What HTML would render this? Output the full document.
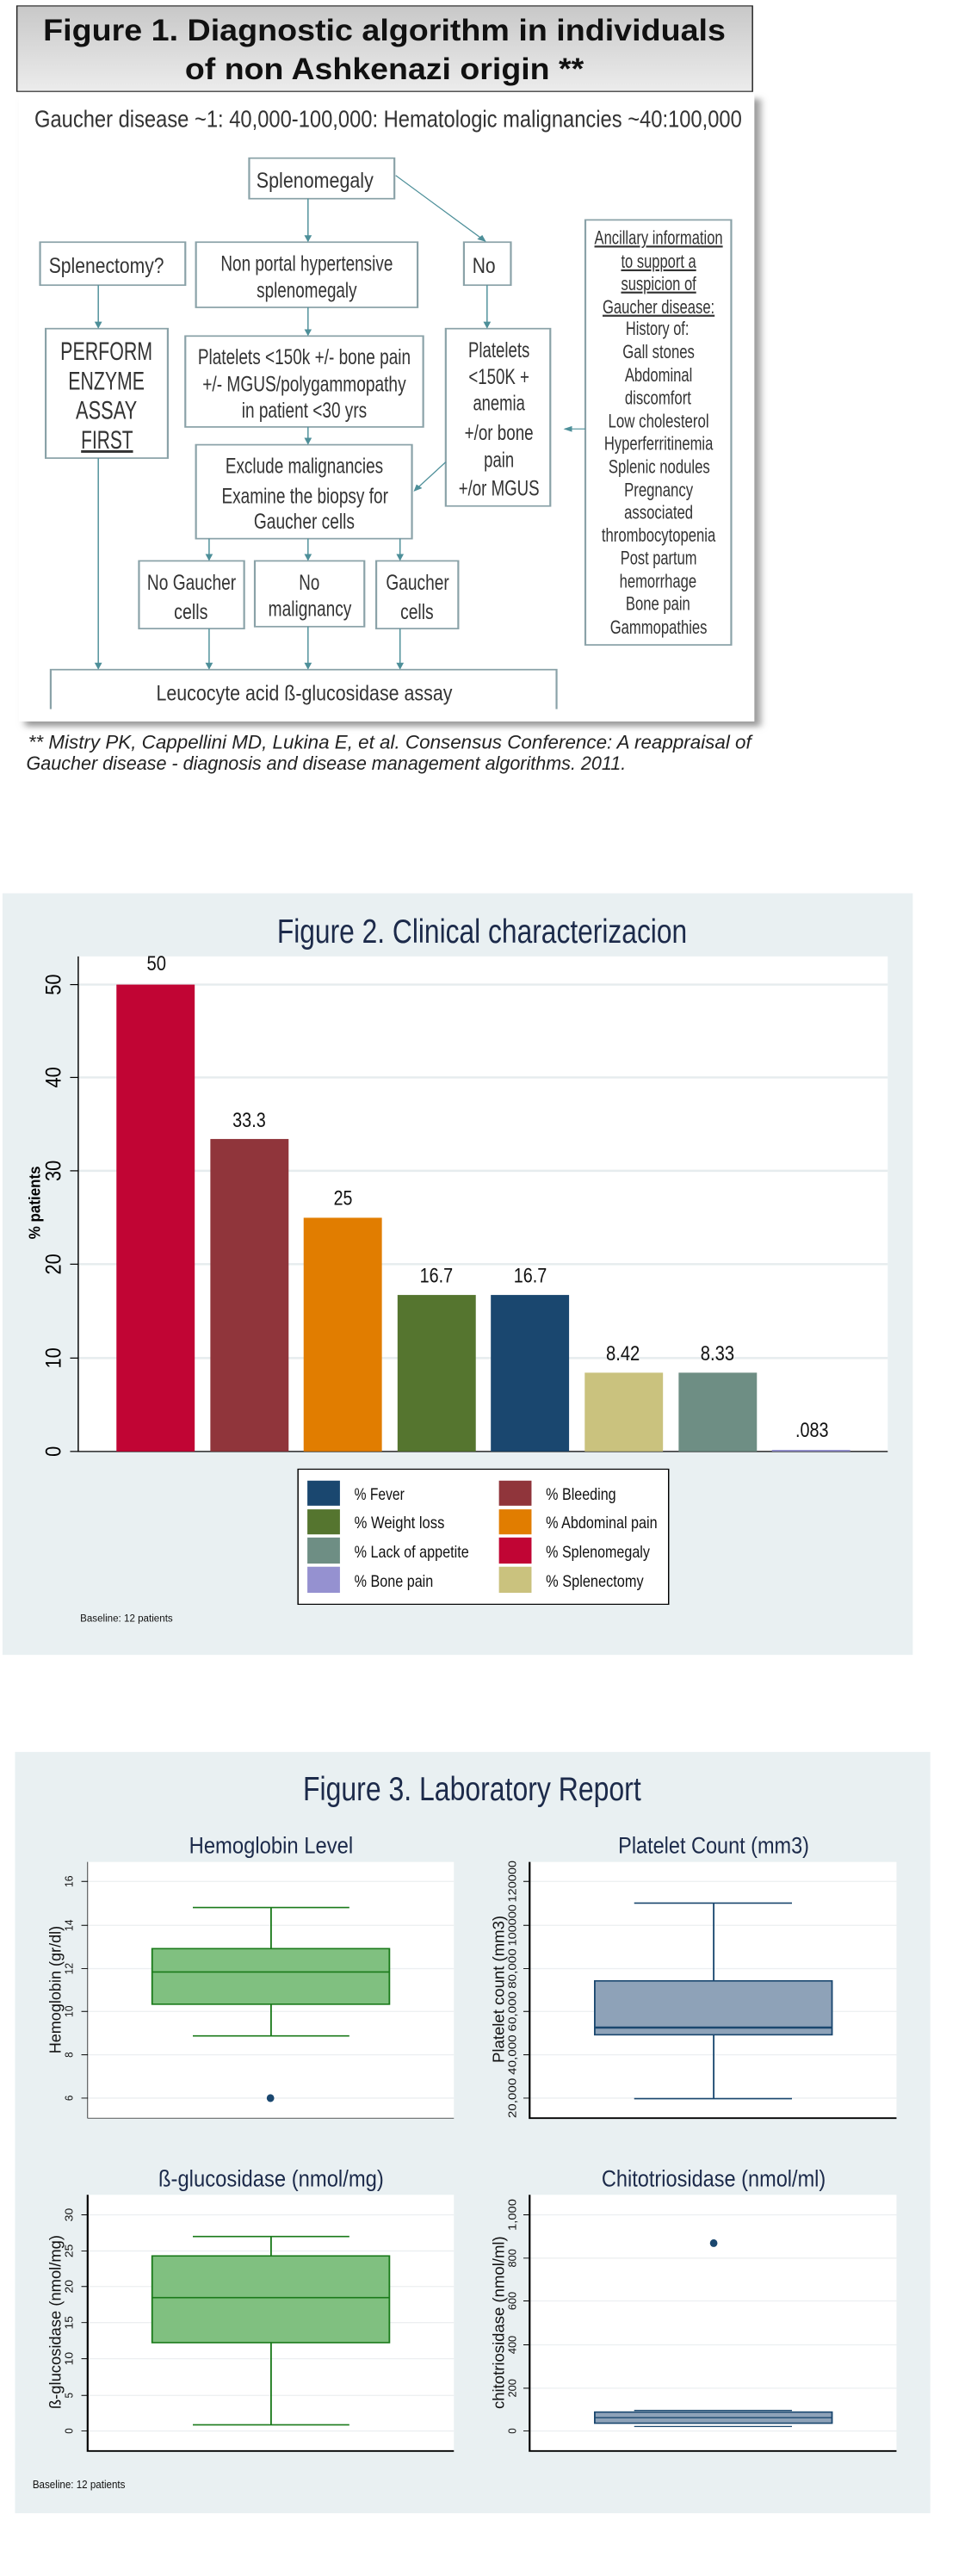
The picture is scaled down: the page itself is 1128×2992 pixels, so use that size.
<!DOCTYPE html>
<html><head><meta charset="utf-8"><style>
html,body{margin:0;padding:0;background:#fff;width:1128px;height:2992px;overflow:hidden;font-family:"Liberation Sans",sans-serif}
svg{position:absolute;left:0;display:block}
</style></head><body>
<svg style="top:0" width="1128" height="900" viewBox="0 0 1551 1568" preserveAspectRatio="none">
<defs>
<linearGradient id="tg" x1="0" y1="0" x2="0" y2="1"><stop offset="0" stop-color="#c8c8c8"/><stop offset="1" stop-color="#ececec"/></linearGradient>
<marker id="ar" markerWidth="8" markerHeight="8" refX="6" refY="4" orient="auto"><path d="M0,1 L7,4 L0,7 z" fill="#4d8f99"/></marker>
<filter id="sh" x="-5%" y="-5%" width="115%" height="115%"><feGaussianBlur stdDeviation="6"/></filter>
</defs>
<rect x="27" y="12" width="1175" height="173" fill="url(#tg)" stroke="#222" stroke-width="2"/>
<text x="614" y="82" text-anchor="middle" font-size="62" font-weight="bold" fill="#111" textLength="1090" lengthAdjust="spacingAndGlyphs">Figure 1. Diagnostic algorithm in individuals</text>
<text x="614" y="160" text-anchor="middle" font-size="62" font-weight="bold" fill="#111" textLength="637" lengthAdjust="spacingAndGlyphs">of non Ashkenazi origin **</text>
<rect x="40" y="200" width="1175" height="1270" fill="#9a9a9a" filter="url(#sh)"/>
<rect x="30" y="190" width="1175" height="1270" fill="#fff"/>
<text x="620" y="257" text-anchor="middle" font-size="48" fill="#333" textLength="1130" lengthAdjust="spacingAndGlyphs">Gaucher disease ~1: 40,000-100,000: Hematologic malignancies ~40:100,000</text>
<g fill="none" stroke="#8aa2a8" stroke-width="3">
<rect x="398" y="320" width="232" height="82"/>
<rect x="64" y="490" width="232" height="87"/>
<rect x="313" y="490" width="354" height="132"/>
<rect x="741" y="490" width="75" height="87"/>
<rect x="73" y="665" width="195" height="262"/>
<rect x="296" y="680" width="380" height="184"/>
<rect x="712" y="665" width="167" height="359"/>
<rect x="935" y="445" width="233" height="860"/>
<rect x="313" y="900" width="345" height="190"/>
<rect x="222" y="1135" width="168" height="137"/>
<rect x="407" y="1135" width="175" height="133"/>
<rect x="601" y="1135" width="131" height="137"/>
<path d="M81,1435 V1355 H889 V1435"/>
</g>
<g stroke="#4d8f99" stroke-width="2" marker-end="url(#ar)">
<line x1="492" y1="402" x2="492" y2="488"/>
<line x1="632" y1="355" x2="775" y2="488"/>
<line x1="157" y1="577" x2="157" y2="663"/>
<line x1="778" y1="577" x2="778" y2="663"/>
<line x1="492" y1="622" x2="492" y2="678"/>
<line x1="492" y1="864" x2="492" y2="898"/>
<line x1="935" y1="868" x2="902" y2="868"/>
<line x1="712" y1="935" x2="662" y2="993"/>
<line x1="157" y1="927" x2="157" y2="1353"/>
<line x1="334" y1="1090" x2="334" y2="1133"/>
<line x1="492" y1="1090" x2="492" y2="1133"/>
<line x1="639" y1="1090" x2="639" y2="1133"/>
<line x1="334" y1="1272" x2="334" y2="1353"/>
<line x1="492" y1="1268" x2="492" y2="1353"/>
<line x1="639" y1="1272" x2="639" y2="1353"/>
</g>
<g fill="#333" text-anchor="middle" font-size="44">
<text x="503" y="380" textLength="187" lengthAdjust="spacingAndGlyphs">Splenomegaly</text>
<text x="170" y="552" textLength="184" lengthAdjust="spacingAndGlyphs">Splenectomy?</text>
<text x="490" y="548" textLength="275" lengthAdjust="spacingAndGlyphs">Non portal hypertensive</text>
<text x="490" y="602" textLength="160" lengthAdjust="spacingAndGlyphs">splenomegaly</text>
<text x="773" y="552" textLength="37" lengthAdjust="spacingAndGlyphs">No</text>
<g font-size="52"><text x="170" y="728" textLength="147" lengthAdjust="spacingAndGlyphs">PERFORM</text><text x="170" y="788" textLength="122" lengthAdjust="spacingAndGlyphs">ENZYME</text><text x="170" y="848" textLength="98" lengthAdjust="spacingAndGlyphs">ASSAY</text><text x="171" y="908" textLength="83" lengthAdjust="spacingAndGlyphs" text-decoration="underline">FIRST</text></g>
<text x="486" y="737" textLength="340" lengthAdjust="spacingAndGlyphs">Platelets &lt;150k +/- bone pain</text>
<text x="486" y="792" textLength="325" lengthAdjust="spacingAndGlyphs">+/- MGUS/polygammopathy</text>
<text x="486" y="845" textLength="200" lengthAdjust="spacingAndGlyphs">in patient &lt;30 yrs</text>
<text x="797" y="723" textLength="98" lengthAdjust="spacingAndGlyphs">Platelets</text><text x="797" y="777" textLength="97" lengthAdjust="spacingAndGlyphs">&lt;150K +</text><text x="797" y="830" textLength="83" lengthAdjust="spacingAndGlyphs">anemia</text><text x="797" y="890" textLength="110" lengthAdjust="spacingAndGlyphs">+/or bone</text><text x="797" y="945" textLength="48" lengthAdjust="spacingAndGlyphs">pain</text><text x="797" y="1003" textLength="129" lengthAdjust="spacingAndGlyphs">+/or MGUS</text>
<text x="486" y="957" textLength="252" lengthAdjust="spacingAndGlyphs">Exclude malignancies</text>
<text x="487" y="1018" textLength="266" lengthAdjust="spacingAndGlyphs">Examine the biopsy for</text>
<text x="486" y="1070" textLength="161" lengthAdjust="spacingAndGlyphs">Gaucher cells</text>
<text x="306" y="1193" textLength="142" lengthAdjust="spacingAndGlyphs">No Gaucher</text><text x="305" y="1253" textLength="54" lengthAdjust="spacingAndGlyphs">cells</text>
<text x="494" y="1193" textLength="33" lengthAdjust="spacingAndGlyphs">No</text><text x="495" y="1247" textLength="133" lengthAdjust="spacingAndGlyphs">malignancy</text>
<text x="667" y="1193" textLength="101" lengthAdjust="spacingAndGlyphs">Gaucher</text><text x="666" y="1253" textLength="53" lengthAdjust="spacingAndGlyphs">cells</text>
<text x="486" y="1417" textLength="473" lengthAdjust="spacingAndGlyphs">Leucocyte acid ß-glucosidase assay</text>
<g font-size="38">
<text x="1052" y="494" text-decoration="underline" textLength="205" lengthAdjust="spacingAndGlyphs">Ancillary information</text>
<text x="1052" y="542" text-decoration="underline" textLength="120" lengthAdjust="spacingAndGlyphs">to support a</text>
<text x="1052" y="587" text-decoration="underline" textLength="120" lengthAdjust="spacingAndGlyphs">suspicion of</text>
<text x="1052" y="634" text-decoration="underline" textLength="179" lengthAdjust="spacingAndGlyphs">Gaucher disease:</text>
<text x="1050" y="678" textLength="101" lengthAdjust="spacingAndGlyphs">History of:</text>
<text x="1052" y="725" textLength="115" lengthAdjust="spacingAndGlyphs">Gall stones</text>
<text x="1052" y="772" textLength="108" lengthAdjust="spacingAndGlyphs">Abdominal</text>
<text x="1051" y="818" textLength="106" lengthAdjust="spacingAndGlyphs">discomfort</text>
<text x="1052" y="865" textLength="161" lengthAdjust="spacingAndGlyphs">Low cholesterol</text>
<text x="1052" y="910" textLength="174" lengthAdjust="spacingAndGlyphs">Hyperferritinemia</text>
<text x="1053" y="957" textLength="162" lengthAdjust="spacingAndGlyphs">Splenic nodules</text>
<text x="1052" y="1004" textLength="110" lengthAdjust="spacingAndGlyphs">Pregnancy</text>
<text x="1052" y="1050" textLength="110" lengthAdjust="spacingAndGlyphs">associated</text>
<text x="1052" y="1096" textLength="182" lengthAdjust="spacingAndGlyphs">thrombocytopenia</text>
<text x="1052" y="1142" textLength="122" lengthAdjust="spacingAndGlyphs">Post partum</text>
<text x="1051" y="1189" textLength="123" lengthAdjust="spacingAndGlyphs">hemorrhage</text>
<text x="1051" y="1234" textLength="103" lengthAdjust="spacingAndGlyphs">Bone pain</text>
<text x="1052" y="1282" textLength="155" lengthAdjust="spacingAndGlyphs">Gammopathies</text>
</g></g>
<g font-size="38" font-style="italic" fill="#222">
<text x="45" y="1515" textLength="1155" lengthAdjust="spacingAndGlyphs">** Mistry PK, Cappellini MD, Lukina E, et al. Consensus Conference: A reappraisal of</text>
<text x="42" y="1558" textLength="958" lengthAdjust="spacingAndGlyphs">Gaucher disease - diagnosis and disease management algorithms. 2011.</text>
</g>
</svg>

<svg style="top:1000px" width="1128" height="950" viewBox="0 0 1551 1568" preserveAspectRatio="none">
<rect x="4" y="62" width="1454" height="1460" fill="#e9f0f2"/>
<text x="770" y="157" text-anchor="middle" font-size="64" fill="#1c2a4a" textLength="655" lengthAdjust="spacingAndGlyphs">Figure 2. Clinical characterizacion</text>
<rect x="125" y="183" width="1293" height="950" fill="#fff"/>
<g stroke="#e6ecee" stroke-width="4"><line x1="125" y1="237" x2="1418" y2="237"/><line x1="125" y1="415" x2="1418" y2="415"/><line x1="125" y1="594" x2="1418" y2="594"/><line x1="125" y1="773" x2="1418" y2="773"/><line x1="125" y1="953" x2="1418" y2="953"/></g>
<g stroke="#000" stroke-width="2"><line x1="125" y1="183" x2="125" y2="1133"/><line x1="125" y1="1132" x2="1418" y2="1132"/>
<line x1="112" y1="237" x2="125" y2="237"/><line x1="112" y1="415" x2="125" y2="415"/><line x1="112" y1="594" x2="125" y2="594"/><line x1="112" y1="773" x2="125" y2="773"/><line x1="112" y1="953" x2="125" y2="953"/><line x1="112" y1="1132" x2="125" y2="1132"/></g>
<g font-size="34" fill="#000" text-anchor="middle">
<text transform="translate(97,237) rotate(-90)" textLength="40" lengthAdjust="spacingAndGlyphs">50</text><text transform="translate(97,415) rotate(-90)" textLength="40" lengthAdjust="spacingAndGlyphs">40</text><text transform="translate(97,594) rotate(-90)" textLength="40" lengthAdjust="spacingAndGlyphs">30</text><text transform="translate(97,773) rotate(-90)" textLength="40" lengthAdjust="spacingAndGlyphs">20</text><text transform="translate(97,953) rotate(-90)" textLength="40" lengthAdjust="spacingAndGlyphs">10</text><text transform="translate(97,1132) rotate(-90)" textLength="20" lengthAdjust="spacingAndGlyphs">0</text>
<text transform="translate(64,655) rotate(-90)" font-size="26" font-weight="bold" textLength="140" lengthAdjust="spacingAndGlyphs">% patients</text>
</g>
<rect x="186" y="237" width="125" height="895" fill="#c10534"/>
<rect x="336" y="533" width="125" height="599" fill="#90353b"/>
<rect x="485" y="684" width="125" height="448" fill="#e17d00"/>
<rect x="635" y="832" width="125" height="300" fill="#55752f"/>
<rect x="784" y="832" width="125" height="300" fill="#1a476f"/>
<rect x="934" y="981" width="125" height="151" fill="#cac27e"/>
<rect x="1084" y="981" width="125" height="151" fill="#6e8e84"/>
<rect x="1233" y="1129" width="125" height="3" fill="#9591d0"/>
<g font-size="40" fill="#111" text-anchor="middle">
<text x="250" y="210" textLength="31" lengthAdjust="spacingAndGlyphs">50</text><text x="398" y="510" textLength="53" lengthAdjust="spacingAndGlyphs">33.3</text><text x="548" y="659" textLength="30" lengthAdjust="spacingAndGlyphs">25</text><text x="697" y="808" textLength="53" lengthAdjust="spacingAndGlyphs">16.7</text><text x="847" y="808" textLength="53" lengthAdjust="spacingAndGlyphs">16.7</text><text x="995" y="957" textLength="54" lengthAdjust="spacingAndGlyphs">8.42</text><text x="1146" y="957" textLength="54" lengthAdjust="spacingAndGlyphs">8.33</text><text x="1297" y="1104" textLength="53" lengthAdjust="spacingAndGlyphs">.083</text>
</g>
<rect x="476" y="1166" width="592" height="259" fill="#fff" stroke="#000" stroke-width="2"/>
<rect x="491" y="1188" width="52" height="48" fill="#1a476f"/><rect x="797" y="1188" width="52" height="48" fill="#90353b"/>
<rect x="491" y="1243" width="52" height="48" fill="#55752f"/><rect x="797" y="1243" width="52" height="48" fill="#e17d00"/>
<rect x="491" y="1297" width="52" height="50" fill="#6e8e84"/><rect x="797" y="1297" width="52" height="50" fill="#c10534"/>
<rect x="491" y="1353" width="52" height="50" fill="#9591d0"/><rect x="797" y="1353" width="52" height="50" fill="#cac27e"/>
<g font-size="32" fill="#111">
<text x="566" y="1225" textLength="80" lengthAdjust="spacingAndGlyphs">% Fever</text><text x="872" y="1225" textLength="112" lengthAdjust="spacingAndGlyphs">% Bleeding</text>
<text x="566" y="1279" textLength="144" lengthAdjust="spacingAndGlyphs">% Weight loss</text><text x="872" y="1279" textLength="178" lengthAdjust="spacingAndGlyphs">% Abdominal pain</text>
<text x="566" y="1335" textLength="183" lengthAdjust="spacingAndGlyphs">% Lack of appetite</text><text x="872" y="1335" textLength="166" lengthAdjust="spacingAndGlyphs">% Splenomegaly</text>
<text x="566" y="1391" textLength="126" lengthAdjust="spacingAndGlyphs">% Bone pain</text><text x="872" y="1391" textLength="156" lengthAdjust="spacingAndGlyphs">% Splenectomy</text>
</g>
<text x="128" y="1458" font-size="20" fill="#111" textLength="148" lengthAdjust="spacingAndGlyphs">Baseline: 12 patients</text>
</svg>

<svg style="top:1980px" width="1128" height="1012" viewBox="0 0 1551 1568" preserveAspectRatio="none">
<rect x="24" y="85" width="1462" height="1370" fill="#e9f0f2"/>
<text x="754" y="172" text-anchor="middle" font-size="60" fill="#1c2a4a" textLength="540" lengthAdjust="spacingAndGlyphs">Figure 3. Laboratory Report</text>
<g font-size="42" fill="#1c2a4a" text-anchor="middle">
<text x="433" y="267" textLength="262" lengthAdjust="spacingAndGlyphs">Hemoglobin Level</text>
<text x="1140" y="267" textLength="305" lengthAdjust="spacingAndGlyphs">Platelet Count (mm3)</text>
<text x="433" y="867" textLength="360" lengthAdjust="spacingAndGlyphs">ß-glucosidase (nmol/mg)</text>
<text x="1140" y="867" textLength="358" lengthAdjust="spacingAndGlyphs">Chitotriosidase (nmol/ml)</text>
</g>
<g fill="#fff"><rect x="140" y="283" width="585" height="461"/><rect x="846" y="283" width="586" height="461"/><rect x="140" y="882" width="585" height="461"/><rect x="846" y="882" width="586" height="461"/></g>
<g stroke="#eceff1" stroke-width="2">
<path d="M140,318H725M140,397H725M140,475H725M140,552H725M140,630H725M140,708H725"/>
<path d="M846,318H1432M846,397H1432M846,475H1432M846,552H1432M846,630H1432M846,708H1432"/>
<path d="M140,918H725M140,983H725M140,1047H725M140,1112H725M140,1177H725M140,1243H725M140,1307H725"/>
<path d="M846,918H1432M846,996H1432M846,1073H1432M846,1152H1432M846,1230H1432M846,1307H1432"/>
</g>
<g stroke="#000" fill="none">
<path d="M140,283V744H725" stroke-width="1"/>
<path d="M846,283V744H1432" stroke-width="3"/>
<path d="M140,882V1343H725" stroke-width="3"/>
<path d="M846,882V1343H1432" stroke-width="3"/>
</g>
<g stroke="#000" stroke-width="1.5">
<path d="M130,318H140M130,397H140M130,475H140M130,552H140M130,630H140M130,708H140"/>
<path d="M836,318H846M836,397H846M836,475H846M836,552H846M836,630H846M836,708H846"/>
<path d="M130,918H140M130,983H140M130,1047H140M130,1112H140M130,1177H140M130,1243H140M130,1307H140"/>
<path d="M836,918H846M836,996H846M836,1073H846M836,1152H846M836,1230H846M836,1307H846"/>
</g>
<g font-size="18" fill="#111" text-anchor="middle">
<text transform="translate(116,708) rotate(-90)">6</text><text transform="translate(116,630) rotate(-90)">8</text><text transform="translate(116,552) rotate(-90)" textLength="21" lengthAdjust="spacingAndGlyphs">10</text><text transform="translate(116,475) rotate(-90)" textLength="21" lengthAdjust="spacingAndGlyphs">12</text><text transform="translate(116,397) rotate(-90)" textLength="21" lengthAdjust="spacingAndGlyphs">14</text><text transform="translate(116,318) rotate(-90)" textLength="21" lengthAdjust="spacingAndGlyphs">16</text>
<text transform="translate(824,708) rotate(-90)" textLength="72" lengthAdjust="spacingAndGlyphs">20,000</text><text transform="translate(824,630) rotate(-90)" textLength="72" lengthAdjust="spacingAndGlyphs">40,000</text><text transform="translate(824,552) rotate(-90)" textLength="72" lengthAdjust="spacingAndGlyphs">60,000</text><text transform="translate(824,475) rotate(-90)" textLength="72" lengthAdjust="spacingAndGlyphs">80,000</text><text transform="translate(824,397) rotate(-90)" textLength="75" lengthAdjust="spacingAndGlyphs">100000</text><text transform="translate(824,318) rotate(-90)" textLength="75" lengthAdjust="spacingAndGlyphs">120000</text>
<text transform="translate(116,1307) rotate(-90)">0</text><text transform="translate(116,1243) rotate(-90)">5</text><text transform="translate(116,1177) rotate(-90)" textLength="24" lengthAdjust="spacingAndGlyphs">10</text><text transform="translate(116,1112) rotate(-90)" textLength="24" lengthAdjust="spacingAndGlyphs">15</text><text transform="translate(116,1047) rotate(-90)" textLength="24" lengthAdjust="spacingAndGlyphs">20</text><text transform="translate(116,983) rotate(-90)" textLength="24" lengthAdjust="spacingAndGlyphs">25</text><text transform="translate(116,918) rotate(-90)" textLength="24" lengthAdjust="spacingAndGlyphs">30</text>
<text transform="translate(824,1307) rotate(-90)">0</text><text transform="translate(824,1230) rotate(-90)" textLength="33" lengthAdjust="spacingAndGlyphs">200</text><text transform="translate(824,1152) rotate(-90)" textLength="33" lengthAdjust="spacingAndGlyphs">400</text><text transform="translate(824,1073) rotate(-90)" textLength="33" lengthAdjust="spacingAndGlyphs">600</text><text transform="translate(824,996) rotate(-90)" textLength="33" lengthAdjust="spacingAndGlyphs">800</text><text transform="translate(824,918) rotate(-90)" textLength="57" lengthAdjust="spacingAndGlyphs">1,000</text>
<g font-size="26">
<text transform="translate(97,513) rotate(-90)" textLength="230" lengthAdjust="spacingAndGlyphs">Hemoglobin (gr/dl)</text>
<text transform="translate(805,512) rotate(-90)" textLength="265" lengthAdjust="spacingAndGlyphs">Platelet count (mm3)</text>
<text transform="translate(97,1111) rotate(-90)" textLength="313" lengthAdjust="spacingAndGlyphs">ß-glucosidase (nmol/mg)</text>
<text transform="translate(805,1112) rotate(-90)" textLength="311" lengthAdjust="spacingAndGlyphs">chitotriosidase (nmol/ml)</text>
</g></g>
<g stroke="#1a7a1a" stroke-width="2.5">
<rect x="243" y="439" width="379" height="100" fill="#80c080"/>
<path d="M243,481H622M433,439V365M433,539V596M308,365H558M308,596H558" fill="none"/>
<rect x="243" y="992" width="379" height="156" fill="#80c080"/>
<path d="M243,1067H622M433,992V957M433,1148V1296M308,957H558M308,1296H558" fill="none"/>
</g>
<ellipse cx="432" cy="708" rx="6" ry="7" fill="#1a476f"/>
<g stroke="#1a476f" stroke-width="2.5">
<rect x="950" y="497" width="379" height="97" fill="#8ea2b8"/>
<path d="M950,581H1329" stroke-width="4"/>
<path d="M1140,497V357M1140,594V709M1013,357H1265M1013,709H1265" fill="none" stroke-width="2.5"/>
<rect x="950" y="1273" width="379" height="20" fill="#8ea2b8"/>
<path d="M950,1283H1329M1013,1270H1265M1013,1299H1265" fill="none" stroke-width="2"/>
</g>
<ellipse cx="1140" cy="969" rx="6" ry="7" fill="#1a476f"/>
<text x="52" y="1410" font-size="20" fill="#111" textLength="148" lengthAdjust="spacingAndGlyphs">Baseline: 12 patients</text>
</svg>
</body></html>
